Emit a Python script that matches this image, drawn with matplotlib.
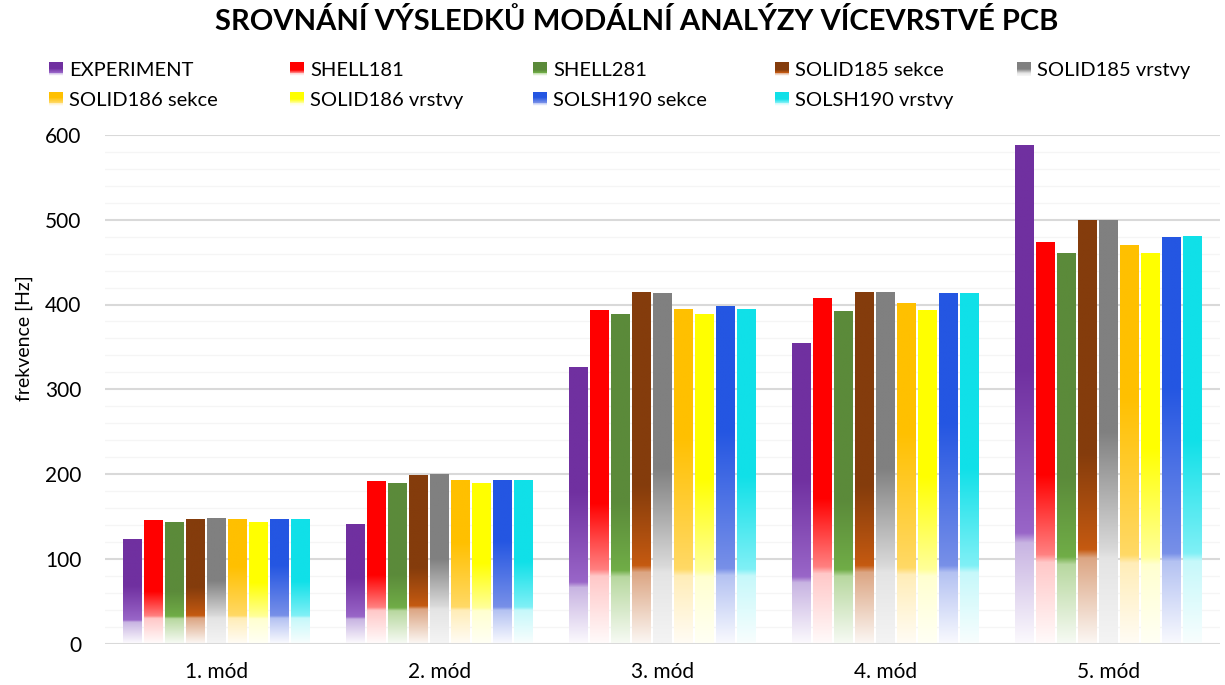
import numpy as np
import matplotlib
matplotlib.use("Agg")
import matplotlib.pyplot as plt
from matplotlib.colors import to_rgb
from matplotlib.patches import Patch, Rectangle
from matplotlib.legend_handler import HandlerBase

# ---- data -------------------------------------------------------------
categories = ["1. mód", "2. mód", "3. mód", "4. mód", "5. mód"]
series = ["EXPERIMENT", "SHELL181", "SHELL281", "SOLID185 sekce", "SOLID185 vrstvy",
          "SOLID186 sekce", "SOLID186 vrstvy", "SOLSH190 sekce", "SOLSH190 vrstvy"]

experiment      = [122, 140, 325, 353, 587]
shell181        = [144, 190, 392, 406, 473]
shell281        = [142, 188, 388, 391, 460]
solid185_sekce  = [146, 198, 413, 413, 498]
solid185_vrstvy = [147, 199, 412, 413, 498]
solid186_sekce  = [146, 192, 394, 401, 469]
solid186_vrstvy = [142, 188, 388, 392, 460]
solsh190_sekce  = [146, 192, 397, 412, 478]
solsh190_vrstvy = [146, 192, 394, 412, 480]

values = [experiment, shell181, shell281, solid185_sekce, solid185_vrstvy,
          solid186_sekce, solid186_vrstvy, solsh190_sekce, solsh190_vrstvy]

title = "SROVNÁNÍ VÝSLEDKŮ MODÁLNÍ ANALÝZY VÍCEVRSTVÉ PCB"
ylabel = "frekvence [Hz]"

# ---- gradient styles: (top colour, end of solid part, mid colour, pale colour, bottom colour)
styles = [
    ("#7030A0", 0.45, "#9966C8", "#C8B4E2", "#FBF9FD"),
    ("#FF0000", 0.58, "#FF8080", "#FFC8C8", "#FFFAFA"),
    ("#5B8A3A", 0.57, "#70AD47", "#B8D8A0", "#F6FAF3"),
    ("#843C0C", 0.55, "#C55A11", "#DCA684", "#FBF6F2"),
    ("#808080", 0.50, "#D9D9D9", "#E4E4E4", "#F4F4F4"),
    ("#FFC000", 0.38, "#FFD966", "#FFEDB8", "#FFFCF4"),
    ("#FFFF00", 0.50, "#FFFF99", "#FFFFD0", "#FFFFF4"),
    ("#2456E2", 0.37, "#7890E8", "#B4C2F2", "#F8F9FE"),
    ("#10E0E8", 0.50, "#80F0F6", "#C6F8FA", "#F8FEFE"),
]


def gradient_colors(style, n=256):
    top, solid_end, mid, pale, bottom = style
    stops = [(0.0, top), (solid_end, top), (0.78, mid), (0.80, pale), (1.0, bottom)]
    t = np.linspace(0, 1, n)
    pos = np.array([s[0] for s in stops])
    cols = np.array([to_rgb(s[1]) for s in stops])
    return np.stack([np.interp(t, pos, cols[:, k]) for k in range(3)], axis=1)


class GradientHandler(HandlerBase):
    """Legend key drawn as a small vertical gradient swatch."""

    def __init__(self, cols):
        super().__init__()
        self.cols = cols

    def create_artists(self, legend, orig_handle, xdescent, ydescent,
                       width, height, fontsize, trans):
        n = 14
        idx = np.linspace(0, len(self.cols) - 1, n).astype(int)
        arts = []
        for i in range(n):
            y = -ydescent + height * (1 - (i + 1) / n)
            arts.append(Rectangle((-xdescent, y), width, height / n + 0.05,
                                  facecolor=self.cols[idx[i]], edgecolor="none",
                                  transform=trans))
        return arts


plt.rcParams["font.family"] = ["Lato", "DejaVu Sans"]

W, H = 1225, 685
fig = plt.figure(figsize=(W / 100, H / 100), dpi=100)
ax = fig.add_axes([105 / W, 1 - 643.5 / H, 1115 / W, 508.5 / H])

x = np.arange(len(categories))
slot = 0.0942
width = 0.082
n_series = len(series)

grads = [gradient_colors(s) for s in styles]

for j, (name, vals) in enumerate(zip(series, values)):
    offs = (j - (n_series - 1) / 2) * slot
    bars = ax.bar(x + offs, vals, width, facecolor="none", edgecolor="none",
                  zorder=2, label=name)
    img = grads[j][:, None, :]
    for b in bars:
        x0, w, h = b.get_x(), b.get_width(), b.get_height()
        ax.imshow(img, extent=(x0, x0 + w, 0, h), aspect="auto",
                  interpolation="bilinear", zorder=2, origin="upper")

ax.set_xlim(-0.5, len(categories) - 0.5)
ax.set_ylim(0, 600)
ax.set_aspect("auto")

# grid
ax.set_yticks(np.arange(0, 601, 100))
ax.set_yticks(np.arange(0, 601, 20), minor=True)
ax.yaxis.grid(True, which="major", color="#D9D9D9", linewidth=1.5, zorder=0)
ax.yaxis.grid(True, which="minor", color="#F5F5F5", linewidth=1.0, zorder=0)
ax.set_axisbelow(True)
for s in ax.spines.values():
    s.set_visible(False)
ax.axhline(0, color="#D9D9D9", linewidth=2.0, zorder=3)

ax.set_xticks(x)
ax.set_xticklabels(categories)
ax.tick_params(axis="x", length=0, pad=13, labelsize=15, labelcolor="#000000")
ax.tick_params(axis="y", which="both", length=0, pad=17, labelsize=15,
               labelcolor="#000000")

ax.set_ylabel(ylabel, fontsize=14, color="#000000")
ax.yaxis.set_label_coords(-0.0646, 0.6)

fig.text(637 / W, 1 - 22 / H, title, ha="center", va="center", fontsize=21,
         fontweight="bold", color="#000000")

# legend: five columns laid out on an even grid, two rows
col_x = [49, 290, 533, 775, 1017]
for c, cx in enumerate(col_x):
    idx = [k for k in (c, c + 5) if k < n_series]
    handles = [Patch(label=series[k]) for k in idx]
    hmap = {h: GradientHandler(grads[k]) for h, k in zip(handles, idx)}
    fig.legend(handles=handles, labels=[series[k] for k in idx],
               loc="upper left", bbox_to_anchor=(cx / W, 1 - 62 / H),
               frameon=False, fontsize=14.5, handler_map=hmap,
               handlelength=0.7, handleheight=0.7, handletextpad=0.3,
               labelspacing=0.62, borderpad=0, borderaxespad=0)

fig.savefig("out.png", dpi=100, facecolor="white")
